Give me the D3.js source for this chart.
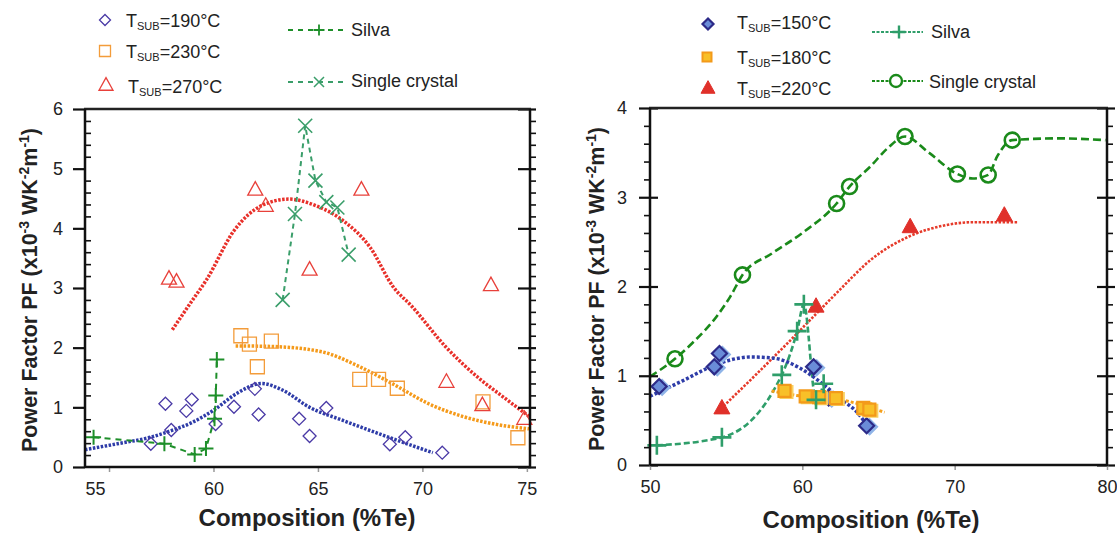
<!DOCTYPE html>
<html><head><meta charset="utf-8">
<script src="https://cdn.jsdelivr.net/npm/d3@7"></script>
<style>
body{margin:0;background:#fff}
svg{display:block;font-family:"Liberation Sans",Arial,Helvetica,sans-serif}
</style>
</head><body>
<svg id="c" width="1117" height="533"></svg>
<script>
// ---------------- LEFT PANEL DATA ----------------
const L190_x = [57.0,57.7,57.98,58.7,58.96,60.1,60.98,61.98,62.16,64.1,64.6,65.4,68.44,69.18,70.95];
const L190_y = [0.39,1.06,0.62,0.94,1.13,0.72,1.01,1.31,0.88,0.81,0.52,0.99,0.38,0.50,0.24];
const Lfit190_x = [53.85,55.4,57.0,57.9,59.0,60.0,61.15,62.3,63.3,64.6,66.2,67.9,69.5,70.5];
const Lfit190_y = [0.29,0.39,0.50,0.60,0.75,0.95,1.24,1.40,1.29,1.00,0.78,0.56,0.36,0.24];

const L230_x = [61.31,61.72,62.1,62.77,67.0,67.9,68.8,72.9,74.57];
const L230_y = [2.20,2.06,1.68,2.11,1.47,1.47,1.32,1.09,0.49];
const Lfit230_x = [61.06,62.8,65.2,67.0,68.7,70.3,72.0,73.6,75.1];
const Lfit230_y = [2.03,2.02,1.93,1.68,1.37,1.06,0.84,0.71,0.64];

const L270_x = [57.87,58.23,62.0,62.5,64.6,67.08,71.15,72.87,73.28,74.88];
const L270_y = [3.16,3.11,4.65,4.38,3.31,4.65,1.43,1.04,3.05,0.81];
const Lfit270_x = [58.03,59.0,59.67,60.98,62.3,63.6,64.9,66.2,67.5,68.6,69.5,71.1,72.8,73.77,75.1];
const Lfit270_y = [2.30,2.80,3.14,3.96,4.38,4.49,4.38,4.13,3.68,3.02,2.69,2.02,1.46,1.20,0.85];

const LSilva_x = [54.26,57.65,59.1,59.64,60.05,60.11,60.16];
const LSilva_y = [0.50,0.39,0.21,0.31,0.81,1.20,1.80];
const LSC_x = [63.31,63.9,64.39,64.88,65.4,65.93,66.47];
const LSC_y = [2.80,4.24,5.72,4.80,4.44,4.35,3.56];

const L_xticks = [55,60,65,70,75];
const L_yticks = [0,1,2,3,4,5,6];

// ---------------- RIGHT PANEL DATA ----------------
const R150_x = [50.6,54.22,54.56,60.74,61.73,64.22];
const R150_y = [0.88,1.10,1.25,1.10,0.75,0.44];
const Rfit150_x = [50,52.1,54.4,56.6,58.0,59.8,61.1,62.5,63.6,64.27];
const Rfit150_y = [0.77,0.94,1.13,1.21,1.20,1.09,0.94,0.74,0.59,0.44];

const R180_x = [58.83,60.22,61.1,62.2,64.0,64.4];
const R180_y = [0.83,0.77,0.76,0.75,0.64,0.62];
const Rfit180_x = [57.98,60.0,62.25,65.4];
const Rfit180_y = [0.83,0.77,0.74,0.59];

const R220_x = [54.72,60.9,67.08,73.26];
const R220_y = [0.64,1.78,2.67,2.80];
const Rfit220_x = [54.83,57.0,59.0,61.0,62.5,64.5,67.0,69.2,71.2,74.16];
const Rfit220_y = [0.66,1.02,1.36,1.71,1.97,2.30,2.56,2.68,2.72,2.72];

const RSilva_x = [50.45,54.72,58.65,59.66,60.1,60.9,61.4];
const RSilva_y = [0.22,0.31,1.01,1.50,1.80,0.73,0.91];

const RSC_x = [51.64,56.07,62.25,63.1,66.74,70.18,72.2,73.78];
const RSC_y = [1.19,2.13,2.93,3.12,3.68,3.26,3.25,3.64];
const RSCline_x = [50,51.64,52.8,54.4,55.28,56.07,58.0,60.0,62.25,63.1,64.5,65.6,66.74,68.3,70.18,71.2,72.2,72.8,73.78,76.85,79.9];
const RSCline_y = [0.99,1.19,1.37,1.67,1.89,2.13,2.37,2.60,2.93,3.12,3.35,3.55,3.68,3.50,3.26,3.21,3.25,3.46,3.64,3.66,3.64];

const R_xticks = [50,60,70,80];
const R_yticks = [0,1,2,3,4];

// ---------------- helpers ----------------
const svg = d3.select("#c");
const zip = (xs, ys) => xs.map((x,i)=>[x, ys[i]]);

function shapePath(type, s){
  const h = s/2;
  switch(type){
    case "diamond": return `M0,${-h}L${h},0L0,${h}L${-h},0Z`;
    case "square": return `M${-h},${-h}H${h}V${h}H${-h}Z`;
    case "triangle": return `M0,${-h*1.05}L${h},${h*0.75}L${-h},${h*0.75}Z`;
    case "plus": return `M${-h},0H${h}M0,${-h}V${h}`;
    case "x": return `M${-h},${-h}L${h},${h}M${h},${-h}L${-h},${h}`;
    case "circle": return d3.arc()({innerRadius:0,outerRadius:h,startAngle:0,endAngle:2*Math.PI});
  }
}

function drawLine(g, x, y, xs, ys, style, curve){
  g.append("path")
    .datum(zip(xs, ys))
    .attr("fill","none")
    .attr("stroke", style.color)
    .attr("stroke-width", style.width)
    .attr("stroke-dasharray", style.dash)
    .attr("d", d3.line().x(d=>x(d[0])).y(d=>y(d[1])).curve(curve || d3.curveMonotoneX));
}

function drawMarks(g, x, y, xs, ys, m){
  const dx = m.dx || 0, dy = m.dy || 0;
  g.selectAll(null).data(zip(xs, ys)).enter().append("path")
    .attr("transform", d=>`translate(${x(d[0])+dx},${y(d[1])+dy})`)
    .attr("d", shapePath(m.type, m.size))
    .attr("fill", m.fill || "none")
    .attr("stroke", m.stroke)
    .attr("stroke-width", m.sw);
}

function frame(g, x, y, cfg){
  const [x0,x1] = x.range(), [y0,y1] = y.range();
  const majors = cfg.yticks;
  const minors = d3.range(cfg.yticks[0], cfg.yticks[cfg.yticks.length-1]+1e-9, 0.2)
      .filter(v => Math.abs(v - Math.round(v)) > 1e-6);
  const la = g.append("g").attr("transform",`translate(${x0},0)`)
    .call(d3.axisLeft(y).tickValues(majors).tickSize(cfg.leftMajOut).tickPadding(cfg.yPad).tickFormat(d3.format("d")));
  la.select(".domain").remove();
  la.selectAll("line").attr("stroke","#111").attr("stroke-width",2.2);
  la.selectAll("text").attr("font-size",18).attr("fill","#222");
  if(cfg.leftMajIn){
    const li = g.append("g").attr("transform",`translate(${x0},0)`)
      .call(d3.axisRight(y).tickValues(majors).tickSize(cfg.leftMajIn).tickFormat(""));
    li.select(".domain").remove(); li.selectAll("line").attr("stroke","#111").attr("stroke-width",2.2);
  }
  const lm = g.append("g").attr("transform",`translate(${x0},0)`)
    .call((cfg.leftMinIn ? d3.axisRight(y) : d3.axisLeft(y)).tickValues(minors).tickSize(6).tickFormat(""));
  lm.select(".domain").remove(); lm.selectAll("line").attr("stroke","#111").attr("stroke-width",1.6);
  const ri = g.append("g").attr("transform",`translate(${x1},0)`)
    .call(d3.axisLeft(y).tickValues(majors).tickSize(cfg.rightMajIn).tickFormat(""));
  ri.select(".domain").remove(); ri.selectAll("line").attr("stroke","#111").attr("stroke-width",2.2);
  if(cfg.rightMajOut){
    const ro = g.append("g").attr("transform",`translate(${x1},0)`)
      .call(d3.axisRight(y).tickValues(majors).tickSize(cfg.rightMajOut).tickFormat(""));
    ro.select(".domain").remove(); ro.selectAll("line").attr("stroke","#111").attr("stroke-width",2.2);
  }
  const rm = g.append("g").attr("transform",`translate(${x1},0)`)
    .call(d3.axisRight(y).tickValues(minors).tickSize(6).tickFormat(""));
  rm.select(".domain").remove(); rm.selectAll("line").attr("stroke","#111").attr("stroke-width",1.6);
  const ba = g.append("g").attr("transform",`translate(0,${y0})`)
    .call(d3.axisBottom(x).tickValues(cfg.xticks).tickSize(5).tickPadding(10).tickFormat(d3.format("d")));
  ba.select(".domain").remove();
  ba.selectAll("line").attr("stroke","#999").attr("stroke-width",1.5);
  ba.selectAll("text").attr("font-size",18).attr("fill","#222")
    .attr("dx", d => (cfg.firstLabelShift && d === cfg.xticks[0]) ? cfg.firstLabelShift : 0);
  g.append("line").attr("x1",x0-1).attr("x2",x1+1).attr("y1",y1).attr("y2",y1).attr("stroke","#222").attr("stroke-width",2.5);
  g.append("line").attr("x1",x0).attr("x2",x1+1).attr("y1",y0).attr("y2",y0).attr("stroke","#111").attr("stroke-width",2.5);
  g.append("line").attr("x1",x0).attr("x2",x0).attr("y1",y1).attr("y2",y0).attr("stroke","#111").attr("stroke-width",2.5);
  g.append("line").attr("x1",x1).attr("x2",x1).attr("y1",y1).attr("y2",y0).attr("stroke","#111").attr("stroke-width",2.5);
}

function yTitle(g, cx, cy){
  const t = g.append("text").attr("transform",`translate(${cx},${cy}) rotate(-90)`)
    .attr("text-anchor","middle").attr("font-size",21.5).attr("font-weight","bold").attr("fill","#222");
  t.append("tspan").text("Power Factor PF (x10");
  t.append("tspan").attr("font-size",14).attr("dy",-8).text("-3");
  t.append("tspan").attr("dy",8).text(" WK");
  t.append("tspan").attr("font-size",14).attr("dy",-8).text("-2");
  t.append("tspan").attr("dy",8).text("m");
  t.append("tspan").attr("font-size",14).attr("dy",-8).text("-1");
  t.append("tspan").attr("dy",8).text(")");
}
function xTitle(g, cx, by){
  g.append("text").attr("x",cx).attr("y",by).attr("text-anchor","middle")
    .attr("font-size",24).attr("font-weight","bold").attr("fill","#222").text("Composition (%Te)");
}
function tsubLabel(g, x, y, temp){
  const t = g.append("text").attr("x",x).attr("y",y).attr("font-size",18).attr("fill","#222");
  t.append("tspan").text("T");
  t.append("tspan").attr("font-size",11).attr("dy",3).text("SUB");
  t.append("tspan").attr("dy",-3).text("=" + temp + "°C");
}

// ================= LEFT PANEL =================
const xL = d3.scaleLinear().domain([53.85, 75.15]).range([85, 530]);
const yL = d3.scaleLinear().domain([0, 6]).range([467, 109]);
const gL = svg.append("g");

const cBlueL = "#4a3aa6", cOrL = "#f39c3a", cRedL = "#e8403a", cSilvaL = "#1e8f2a", cSCL = "#3a9e6a";

drawLine(gL, xL, yL, Lfit270_x, Lfit270_y, {color:"#e8302a", width:3.5, dash:"2.5 1.5"});
drawLine(gL, xL, yL, Lfit230_x, Lfit230_y, {color:"#f59a1a", width:3.5, dash:"2.5 1.5"});
drawLine(gL, xL, yL, Lfit190_x, Lfit190_y, {color:"#2e3ca8", width:3.5, dash:"2.5 1.5"});
drawLine(gL, xL, yL, LSilva_x, LSilva_y, {color:cSilvaL, width:2, dash:"6 5"}, d3.curveLinear);
drawLine(gL, xL, yL, LSC_x, LSC_y, {color:cSCL, width:2, dash:"5 4"}, d3.curveLinear);

drawMarks(gL, xL, yL, L190_x, L190_y, {type:"diamond", size:13, stroke:cBlueL, sw:1.3});
drawMarks(gL, xL, yL, L230_x, L230_y, {type:"square", size:14, stroke:cOrL, sw:1.3});
drawMarks(gL, xL, yL, L270_x, L270_y, {type:"triangle", size:15, stroke:cRedL, sw:1.3});
drawMarks(gL, xL, yL, LSilva_x, LSilva_y, {type:"plus", size:15, stroke:cSilvaL, sw:2});
drawMarks(gL, xL, yL, LSC_x, LSC_y, {type:"x", size:14, stroke:cSCL, sw:1.6});

frame(gL, xL, yL, {yticks:L_yticks, xticks:L_xticks, leftMajOut:12, leftMajIn:0, yPad:10, leftMinIn:true, rightMajIn:12, rightMajOut:6, firstLabelShift:-14});
yTitle(gL, 37, 290);
xTitle(gL, 307, 526);

const lg = svg.append("g");
lg.append("path").attr("transform","translate(105,20)").attr("d",shapePath("diamond",11)).attr("fill","none").attr("stroke",cBlueL).attr("stroke-width",1.3);
lg.append("path").attr("transform","translate(105,51)").attr("d",shapePath("square",11)).attr("fill","none").attr("stroke",cOrL).attr("stroke-width",1.3);
lg.append("path").attr("transform","translate(106,85)").attr("d",shapePath("triangle",14)).attr("fill","none").attr("stroke",cRedL).attr("stroke-width",1.3);
tsubLabel(lg, 126, 27, 190);
tsubLabel(lg, 126, 58, 230);
tsubLabel(lg, 128, 93, 270);
lg.append("line").attr("x1",288).attr("x2",347).attr("y1",30).attr("y2",30).attr("stroke",cSilvaL).attr("stroke-width",1.8).attr("stroke-dasharray","5 5");
lg.append("path").attr("transform","translate(319,30)").attr("d",shapePath("plus",11)).attr("stroke",cSilvaL).attr("stroke-width",1.8);
lg.append("text").attr("x",351).attr("y",36).attr("font-size",18).attr("fill","#222").text("Silva");
lg.append("line").attr("x1",288).attr("x2",347).attr("y1",82).attr("y2",82).attr("stroke",cSCL).attr("stroke-width",1.8).attr("stroke-dasharray","5 5");
lg.append("path").attr("transform","translate(319,82)").attr("d",shapePath("x",10)).attr("stroke",cSCL).attr("stroke-width",1.5);
lg.append("text").attr("x",351).attr("y",87).attr("font-size",18).attr("fill","#222").text("Single crystal");

// ================= RIGHT PANEL =================
const xR = d3.scaleLinear().domain([50, 80]).range([650, 1107]);
const yR = d3.scaleLinear().domain([0, 4]).range([465, 108]);
const gR = svg.append("g");

const cNavy = "#2c2a88", cBlueF = "#6a8cd8", cOrS = "#f39a1a", cOrF = "#f8c028", cRedR = "#e0302a", cSilvaR = "#2f9e6a", cSCR = "#1a8a1a";

drawLine(gR, xR, yR, RSCline_x, RSCline_y, {color:cSCR, width:2.6, dash:"8 4"});
drawLine(gR, xR, yR, Rfit220_x, Rfit220_y, {color:"#e63a2a", width:2.6, dash:"2.5 1.5"});
drawLine(gR, xR, yR, RSilva_x, RSilva_y, {color:cSilvaR, width:2.6, dash:"6 3"});
drawLine(gR, xR, yR, Rfit150_x, Rfit150_y, {color:"#2e3ca8", width:3.5, dash:"3 2"});
drawLine(gR, xR, yR, Rfit180_x, Rfit180_y, {color:"#f5a01a", width:3, dash:"3 2"});

// light offset shadows, as in the reference's 3-D style markers
drawMarks(gR, xR, yR, R150_x, R150_y, {type:"diamond", size:15, stroke:"#8fb4e8", fill:"#8fb4e8", sw:2, dx:3, dy:1});
drawMarks(gR, xR, yR, R150_x, R150_y, {type:"diamond", size:15, stroke:cNavy, fill:cBlueF, sw:2.2});
drawMarks(gR, xR, yR, R180_x, R180_y, {type:"square", size:12, stroke:"#f9d060", fill:"#f9d060", sw:2, dx:2, dy:1});
drawMarks(gR, xR, yR, R180_x, R180_y, {type:"square", size:12, stroke:cOrS, fill:cOrF, sw:2.2});
drawMarks(gR, xR, yR, R220_x, R220_y, {type:"triangle", size:16, stroke:cRedR, fill:cRedR, sw:1});
drawMarks(gR, xR, yR, RSilva_x, RSilva_y, {type:"plus", size:19, stroke:cSilvaR, sw:2.6});
drawMarks(gR, xR, yR, RSC_x, RSC_y, {type:"circle", size:15, stroke:cSCR, fill:"none", sw:2.6});

frame(gR, xR, yR, {yticks:R_yticks, xticks:R_xticks, leftMajOut:11, leftMajIn:8, yPad:12, leftMinIn:false, rightMajIn:10, rightMajOut:8});
yTitle(gR, 604, 289);
xTitle(gR, 871, 528);

const rg = svg.append("g");
rg.append("path").attr("transform","translate(708,24)").attr("d",shapePath("diamond",11)).attr("fill",cBlueF).attr("stroke",cNavy).attr("stroke-width",2.2);
rg.append("path").attr("transform","translate(707,57)").attr("d",shapePath("square",9)).attr("fill",cOrF).attr("stroke",cOrS).attr("stroke-width",2);
rg.append("path").attr("transform","translate(708,88)").attr("d",shapePath("triangle",14)).attr("fill",cRedR).attr("stroke",cRedR).attr("stroke-width",1);
tsubLabel(rg, 737, 29, 150);
tsubLabel(rg, 737, 64, 180);
tsubLabel(rg, 737, 95, 220);
rg.append("line").attr("x1",872).attr("x2",923).attr("y1",32).attr("y2",32).attr("stroke",cSilvaR).attr("stroke-width",2.2).attr("stroke-dasharray","3 1.5");
rg.append("path").attr("transform","translate(899,32)").attr("d",shapePath("plus",13)).attr("stroke",cSilvaR).attr("stroke-width",2.4);
rg.append("text").attr("x",931).attr("y",38).attr("font-size",18).attr("fill","#222").text("Silva");
rg.append("line").attr("x1",872).attr("x2",923).attr("y1",81).attr("y2",81).attr("stroke",cSCR).attr("stroke-width",2.2).attr("stroke-dasharray","3 1.5");
rg.append("path").attr("transform","translate(896,81)").attr("d",shapePath("circle",12)).attr("fill","#fff").attr("stroke",cSCR).attr("stroke-width",2.4);
rg.append("text").attr("x",929).attr("y",88).attr("font-size",18).attr("fill","#222").text("Single crystal");
</script>
</body></html>
